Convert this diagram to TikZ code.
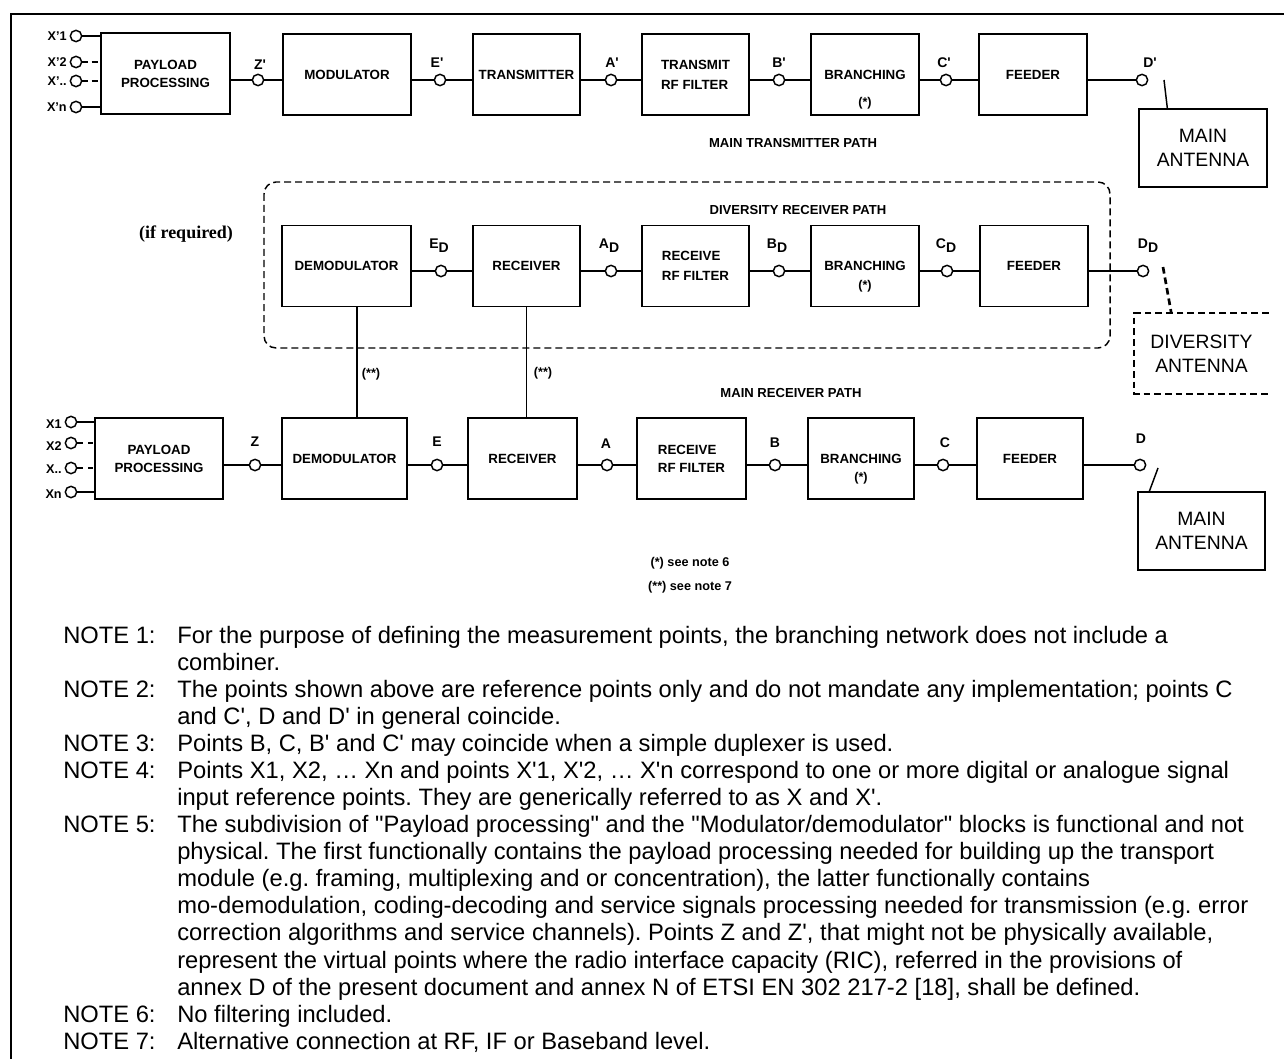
\documentclass[tikz,border=0pt]{standalone}
\usepackage{fontspec}
\setmainfont{Liberation Sans}[Ligatures=TeXOff]
\newfontfamily\tnr{Liberation Serif}
\usetikzlibrary{calc}
\frenchspacing

\newcommand{\ap}{\textquotesingle}
\newcommand{\subD}[1]{#1\raisebox{-3pt}{D}}

\tikzset{
  blk/.style={draw, line width=1.1pt, minimum height=61pt, inner sep=1pt, align=center,
    font=\bfseries\fontsize{10}{15}\selectfont},
  refpt/.style={draw, circle, line width=1.1pt, minimum size=8.5pt, inner sep=0pt, fill=white},
  wire/.style={line width=1.1pt},
  ptlbl/.style={font=\bfseries\fontsize{10.5}{12}\selectfont, inner sep=0.75pt},
  inlbl/.style={font=\bfseries\fontsize{9.5}{11}\selectfont, anchor=east, inner sep=0.75pt},
  astlbl/.style={font=\bfseries\fontsize{9.5}{11}\selectfont, anchor=center, inner sep=0pt},
  pathlbl/.style={font=\bfseries\fontsize{9.8}{11}\selectfont},
  antbox/.style={draw, line width=1pt, align=center, font=\fontsize{14.5}{18}\selectfont}
}

\begin{document}
\begin{tikzpicture}[x=0.75pt,y=0.75pt,yscale=-1,xscale=1]
\useasboundingbox (0,0) rectangle (1284,1059);

%Straight Lines: page frame
\draw [line width=1.5] (11,1059) -- (11,14) -- (1284,14) ;

% ---------------- main transmitter path
%Shape: Rectangle
\node [blk, minimum width=96.75pt, font=\bfseries\fontsize{10}{13.5}\selectfont] (pay1) at (165.5,73.5) {PAYLOAD\\PROCESSING};
\node [blk, minimum width=96pt] (mod) at (347,74.5) {MODULATOR};
\node [blk, minimum width=80.25pt] (tx) at (526.5,74.5) {TRANSMITTER};
\node [blk, minimum width=80.25pt, align=left] (txf) at (695.5,74.5) {TRANSMIT\\RF FILTER};
\node [blk, minimum width=81pt, label={[astlbl,yshift=9.75pt]south:(*)}] (br1) at (865,74.5) {BRANCHING};
\node [blk, minimum width=81pt] (fd1) at (1033,74.5) {FEEDER};
\node [antbox, minimum width=96pt, minimum height=58.5pt] (ant1) at (1203,148) {MAIN\\ANTENNA};

%Shape: Circle
\node [refpt] (xp1) at (76,36) {};
\node [refpt] (xp2) at (76,62) {};
\node [refpt] (xp3) at (76,81) {};
\node [refpt] (xpn) at (76,107) {};
\node [refpt] (zp) at (258,80) {};
\node [refpt] (ep) at (440,80) {};
\node [refpt] (app) at (611,80) {};
\node [refpt] (bp) at (779,80) {};
\node [refpt] (cp) at (946,80) {};
\node [refpt] (dp) at (1142,80) {};
\coordinate (dpsw) at (1164,80);

%Straight Lines
\draw [wire] (xp1) -- (xp1 -| pay1.west) ;
\draw [wire, dash pattern=on 4.5pt off 2.5pt] (xp2) -- (xp2 -| pay1.west) ;
\draw [wire, dash pattern=on 4.5pt off 2.5pt] (xp3) -- (xp3 -| pay1.west) ;
\draw [wire] (xpn) -- (xpn -| pay1.west) ;
\draw [wire] (pay1.east |- zp) -- (zp) -- (mod.west |- zp) ;
\draw [wire] (mod.east |- ep) -- (ep) -- (tx.west |- ep) ;
\draw [wire] (tx.east |- app) -- (app) -- (txf.west |- app) ;
\draw [wire] (txf.east |- bp) -- (bp) -- (br1.west |- bp) ;
\draw [wire] (br1.east |- cp) -- (cp) -- (fd1.west |- cp) ;
\draw [wire] (fd1.east |- dp) -- (dp) ;
\draw [wire] (dpsw) -- ($(ant1.north west)+(29,0)$) ;

% Text Node
\node [inlbl] (lxp1) at (68,36) {X’1};
\node [inlbl] (lxp2) at (68,62) {X’2};
\node [inlbl] (lxp3) at (68,81) {X’..};
\node [inlbl] (lxpn) at (68,107) {X’n};
\node [ptlbl] (lzp) at (260,65) {Z\ap};
\node [ptlbl] (lep) at (437,63) {E\ap};
\node [ptlbl] (lap) at (612,63) {A\ap};
\node [ptlbl] (lbp) at (779,63) {B\ap};
\node [ptlbl] (lcp) at (944,63) {C\ap};
\node [ptlbl] (ldp) at (1150,63) {D\ap};
\node [pathlbl] (ttltx) at (793,143) {MAIN TRANSMITTER PATH};

% ---------------- diversity receiver path
%Shape: Rounded Rectangle
\draw [line width=1.1pt, dash pattern=on 5.25pt off 3pt, rounded corners=9pt] (264,182) rectangle (1110,348) ;

\node [blk, minimum width=96.75pt] (dem1) at (346.5,266) {DEMODULATOR};
\node [blk, minimum width=80.25pt] (rx1) at (526.5,266) {RECEIVER};
\node [blk, minimum width=80.25pt, align=left] (rxf1) at (695.5,266) {RECEIVE\\RF FILTER};
\node [blk, minimum width=81pt, label={[astlbl,yshift=15.75pt]south:(*)}] (br2) at (865,266) {BRANCHING};
\node [blk, minimum width=81pt] (fd2) at (1034,266) {FEEDER};
\node [antbox, draw=none, minimum width=99.75pt, minimum height=59.25pt] (divant) at (1201.5,353.5) {DIVERSITY\\ANTENNA};
\draw [line width=1.5, dash pattern=on 5pt off 3pt] (divant.north east) -- (divant.north west) -- (divant.south west) -- (divant.south east) ;

\node [refpt] (edv) at (441,271) {};
\node [refpt] (adv) at (611,271) {};
\node [refpt] (bdv) at (779,271) {};
\node [refpt] (cdv) at (947,271) {};
\node [refpt] (ddv) at (1143,271) {};
\coordinate (ddsw) at (1163,267);

\draw [wire] (dem1.east |- edv) -- (edv) -- (rx1.west |- edv) ;
\draw [wire] (rx1.east |- adv) -- (adv) -- (rxf1.west |- adv) ;
\draw [wire] (rxf1.east |- bdv) -- (bdv) -- (br2.west |- bdv) ;
\draw [wire] (br2.east |- cdv) -- (cdv) -- (fd2.west |- cdv) ;
\draw [wire] (fd2.east |- ddv) -- (ddv) ;
\draw [line width=2pt, dash pattern=on 5pt off 3pt] (ddsw) -- ($(divant.north west)+(37,0)$) ;

\node [ptlbl] (ledv) at (439,246) {\subD{E}};
\node [ptlbl] (ladv) at (609,246) {\subD{A}};
\node [ptlbl] (lbdv) at (777,246) {\subD{B}};
\node [ptlbl] (lcdv) at (946,246) {\subD{C}};
\node [ptlbl] (lddv) at (1148,246) {\subD{D}};
\node [pathlbl] (ttldv) at (798,210) {DIVERSITY RECEIVER PATH};
\node [font=\tnr\bfseries\fontsize{13.5}{16}\selectfont] (ifreq) at (186,234) {(if required)};

% ---------------- main receiver path
\node [blk, minimum width=96pt, font=\bfseries\fontsize{10}{13.5}\selectfont] (pay2) at (159,458.5) {PAYLOAD\\PROCESSING};
\node [blk, minimum width=93.75pt] (dem2) at (344.5,458.5) {DEMODULATOR};
\node [blk, minimum width=81.75pt] (rx2) at (522.5,458.5) {RECEIVER};
\node [blk, minimum width=81.75pt, align=left, font=\bfseries\fontsize{10}{13.5}\selectfont] (rxf2) at (691.5,458.5) {RECEIVE\\RF FILTER};
\node [blk, minimum width=79.5pt, label={[astlbl,yshift=16.5pt]south:(*)}] (br3) at (861,458.5) {BRANCHING};
\node [blk, minimum width=79.5pt] (fd3) at (1030,458.5) {FEEDER};
\node [antbox, minimum width=95.25pt, minimum height=58.5pt] (ant2) at (1201.5,531) {MAIN\\ANTENNA};

\node [refpt] (xi1) at (71,422) {};
\node [refpt] (xi2) at (71,443) {};
\node [refpt] (xi3) at (71,468) {};
\node [refpt] (xin) at (71,492) {};
\node [refpt] (zr) at (255,465) {};
\node [refpt] (er) at (437,465) {};
\node [refpt] (ar) at (607,465) {};
\node [refpt] (br) at (775,465) {};
\node [refpt] (cr) at (943,465) {};
\node [refpt] (dr) at (1140,465) {};
\coordinate (drsw) at (1158,468);

\draw [wire] (xi1) -- (xi1 -| pay2.west) ;
\draw [wire, dash pattern=on 4pt off 4pt] (xi2) -- (xi2 -| pay2.west) ;
\draw [wire, dash pattern=on 4pt off 4pt] (xi3) -- (xi3 -| pay2.west) ;
\draw [wire] (xin) -- (xin -| pay2.west) ;
\draw [wire] (pay2.east |- zr) -- (zr) -- (dem2.west |- zr) ;
\draw [wire] (dem2.east |- er) -- (er) -- (rx2.west |- er) ;
\draw [wire] (rx2.east |- ar) -- (ar) -- (rxf2.west |- ar) ;
\draw [wire] (rxf2.east |- br) -- (br) -- (br3.west |- br) ;
\draw [wire] (br3.east |- cr) -- (cr) -- (fd3.west |- cr) ;
\draw [wire] (fd3.east |- dr) -- (dr) ;
\draw [wire] (drsw) -- ($(ant2.north west)+(12,0)$) ;

% alternative connections (**)
\draw [wire] ([xshift=7.9pt]dem1.south) -- ([xshift=7.9pt]dem1.south |- dem2.north) ;
\draw [wire] (rx1.south) -- (rx1.south |- rx2.north) ;
\node [astlbl] (alt1) at (371,374) {(**)};
\node [astlbl] (alt2) at (543,373) {(**)};

\node [inlbl] (lxi1) at (63,424) {X1};
\node [inlbl] (lxi2) at (63,446) {X2};
\node [inlbl] (lxi3) at (63,469) {X..};
\node [inlbl] (lxin) at (63,494) {Xn};
\node [ptlbl] (lzr) at (255,442) {Z};
\node [ptlbl] (ler) at (437,442) {E};
\node [ptlbl] (lar) at (606,444) {A};
\node [ptlbl] (lbr) at (775,443) {B};
\node [ptlbl] (lcr) at (945,443) {C};
\node [ptlbl] (ldr) at (1141,439) {D};
\node [pathlbl] (ttlrx) at (791,393) {MAIN RECEIVER PATH};
\node [astlbl] (see6) at (690,563) {(*) see note 6};
\node [astlbl] (see7) at (690,587) {(**) see note 7};

% ---------------- notes
\node [anchor=north west, inner sep=0pt, font=\fontsize{17.8}{20.3}\selectfont] (notes) at (63,624) {%
\begin{tabular}{@{}p{85.5pt}@{}l@{}}
NOTE 1: & For the purpose of defining the measurement points, the branching network does not include a\\
 & combiner.\\
NOTE 2: & The points shown above are reference points only and do not mandate any implementation; points C\\
 & and C', D and D' in general coincide.\\
NOTE 3: & Points B, C, B' and C' may coincide when a simple duplexer is used.\\
NOTE 4: & Points X1, X2, … Xn and points X'1, X'2, … X'n correspond to one or more digital or analogue signal\\
 & input reference points. They are generically referred to as X and X'.\\
NOTE 5: & The subdivision of "Payload processing" and the "Modulator/demodulator" blocks is functional and not\\
 & physical. The first functionally contains the payload processing needed for building up the transport\\
 & module (e.g. framing, multiplexing and or concentration), the latter functionally contains\\
 & mo-demodulation, coding-decoding and service signals processing needed for transmission (e.g. error\\
 & correction algorithms and service channels). Points Z and Z', that might not be physically available,\\
 & represent the virtual points where the radio interface capacity (RIC), referred in the provisions of\\
 & annex D of the present document and annex N of ETSI EN 302 217-2 [18], shall be defined.\\
NOTE 6: & No filtering included.\\
NOTE 7: & Alternative connection at RF, IF or Baseband level.
\end{tabular}};

\end{tikzpicture}
\end{document}
